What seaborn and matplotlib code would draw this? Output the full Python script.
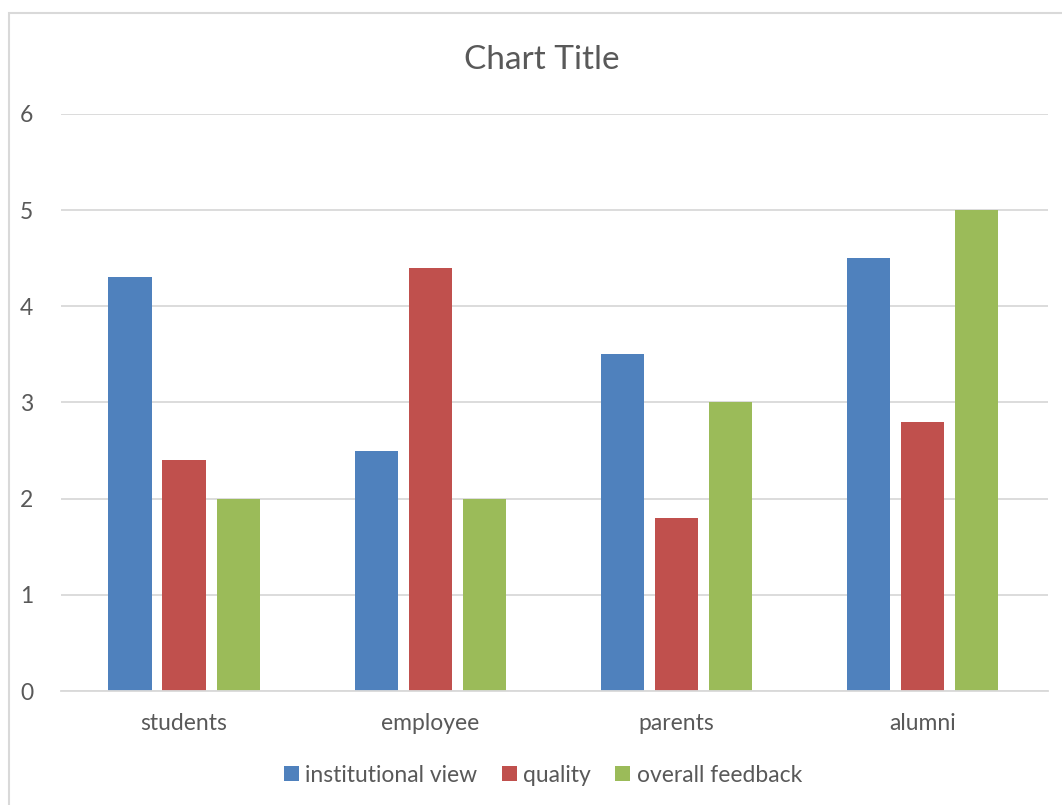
import matplotlib
matplotlib.use("Agg")
import matplotlib.pyplot as plt
import seaborn as sns
import pandas as pd
from matplotlib.patches import Rectangle

categories = ["students", "employee", "parents", "alumni"]
series_names = ["institutional view", "quality", "overall feedback"]
institutional_view = [4.3, 2.5, 3.5, 4.5]
quality = [2.4, 4.4, 1.8, 2.8]
overall_feedback = [2, 2, 3, 5]
y_ticks = [0, 1, 2, 3, 4, 5, 6]
colors = ["#4F81BD", "#C0504D", "#9BBB59"]

rows = []
for name, vals in zip(series_names, [institutional_view, quality, overall_feedback]):
    for c, v in zip(categories, vals):
        rows.append({"category": c, "series": name, "value": v})
df = pd.DataFrame(rows)

sns.set_theme(style="white")
plt.rcParams["font.family"] = ["Lato", "DejaVu Sans"]
text_color = "#595959"

fig = plt.figure(figsize=(10.62, 8.05), dpi=100)
ax = fig.add_axes([61/1062, (805-691)/805, (1048-61)/1062, (691-114)/805])

sns.barplot(data=df, x="category", y="value", hue="series", order=categories,
            hue_order=series_names, palette=colors, width=0.659, gap=0.2,
            saturation=1, ax=ax, legend=True, linewidth=0)

ax.set_xlim(-0.5, 3.51)
ax.set_ylim(0, 6)
ax.set_yticks(y_ticks)
ax.yaxis.grid(True, color="#D9D9D9", linewidth=1.3)
ax.set_axisbelow(True)
for s in ["top", "right", "left"]:
    ax.spines[s].set_visible(False)
ax.spines["bottom"].set_color("#D9D9D9")
ax.spines["bottom"].set_linewidth(1.3)
ax.tick_params(axis="both", length=0, colors=text_color, labelsize=16.5)
ax.tick_params(axis="y", pad=20)
ax.tick_params(axis="x", pad=16)
ax.set_xlabel("")
ax.set_ylabel("")

handles, labels = ax.get_legend_handles_labels()
ax.get_legend().remove()
leg = fig.legend(handles, labels, loc="center", bbox_to_anchor=(543/1062, 1 - 775/805),
                 ncol=3, frameon=False, fontsize=16.5, handlelength=0.65, handleheight=0.65,
                 handletextpad=0.3, columnspacing=1.05)
for t in leg.get_texts():
    t.set_color(text_color)

fig.text(542/1062, 1 - 60/805, "Chart Title", ha="center", va="center",
         fontsize=24, color=text_color)

fig.patches.append(Rectangle((9/1062, -0.1), 1.2, (805-13)/805 + 0.1,
                             transform=fig.transFigure, fill=False,
                             edgecolor="#D9D9D9", linewidth=1.5))

fig.savefig("out.png", dpi=100)
